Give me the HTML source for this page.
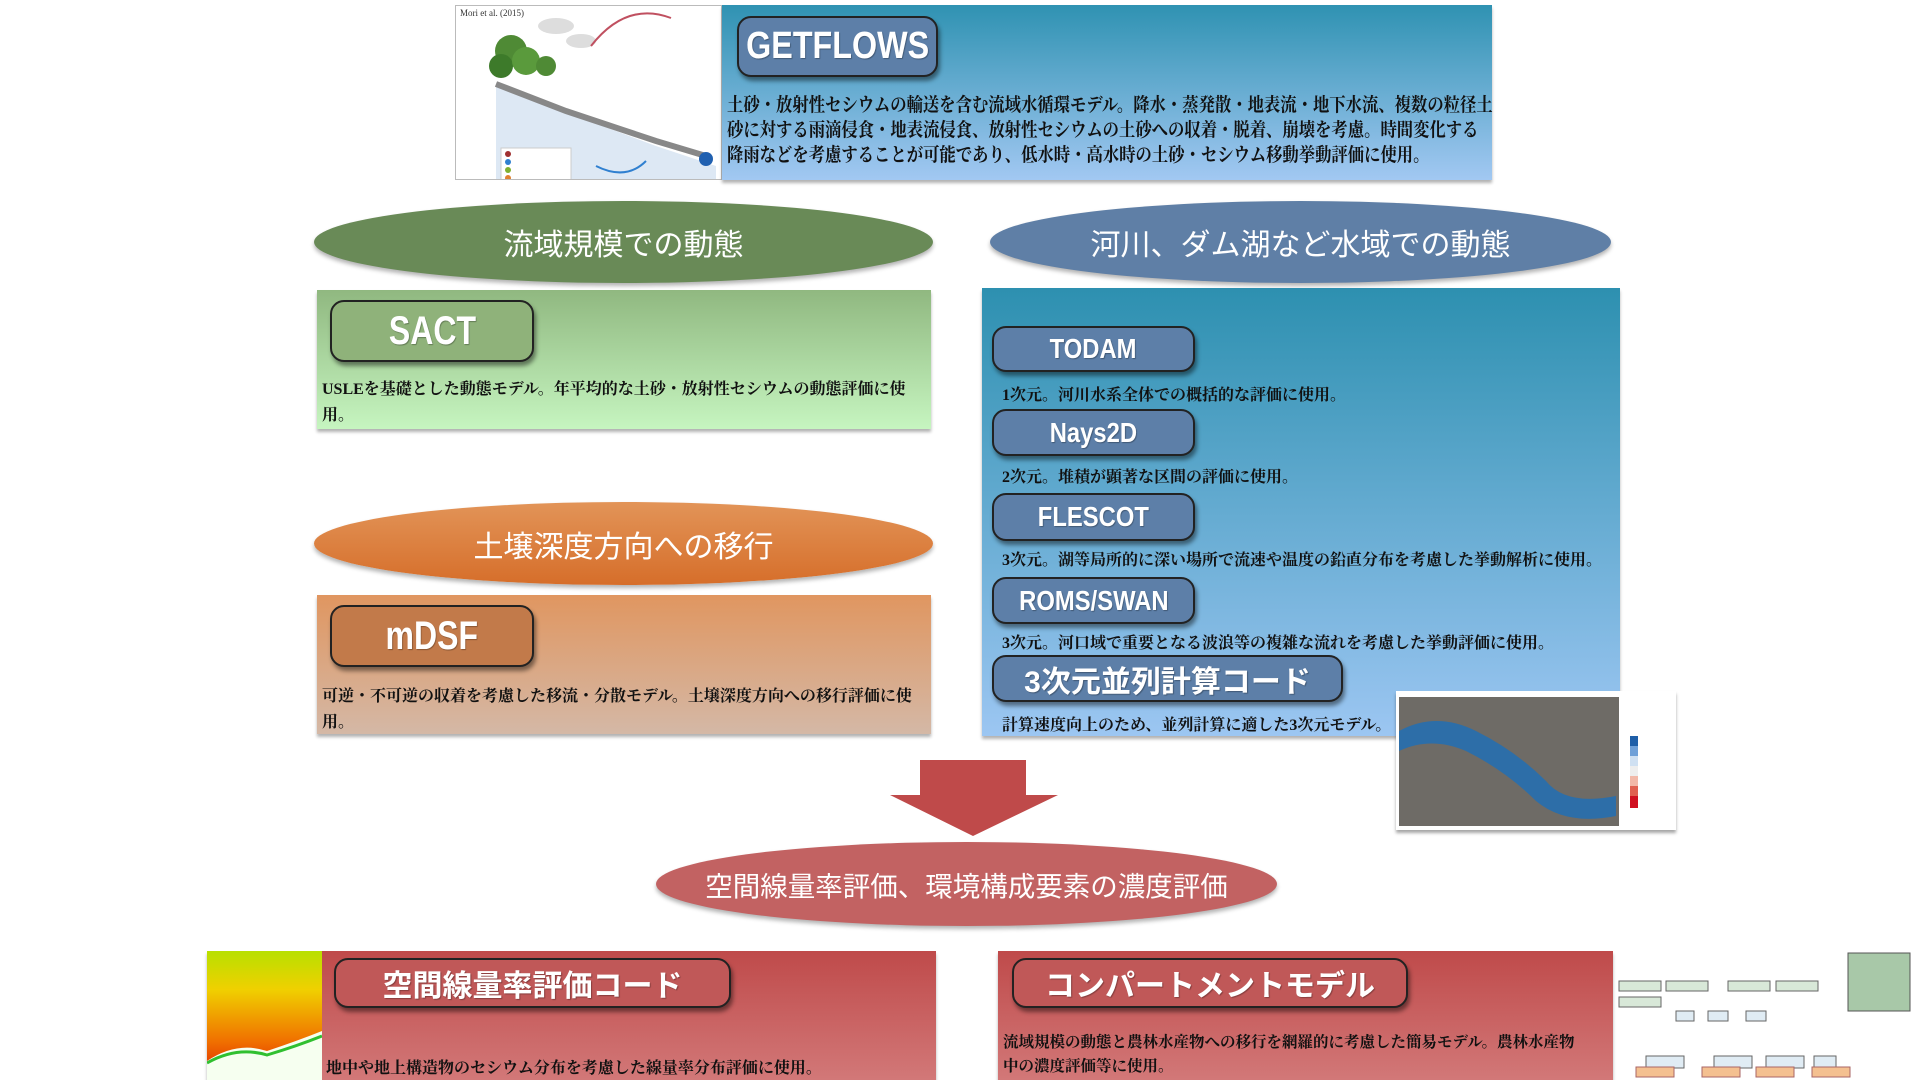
<!DOCTYPE html>
<html><head><meta charset="utf-8"><style>
*{margin:0;padding:0;box-sizing:border-box}
body{width:1920px;height:1080px;background:#fff;position:relative;overflow:hidden;font-family:"Liberation Serif","Noto Serif CJK SC",serif}
.a{position:absolute}
.btn{position:absolute;border:2px solid #222;border-radius:14px;box-shadow:2px 4px 4px rgba(0,0,0,.45);color:#fff;font-family:"Liberation Sans Narrow","Liberation Sans","Noto Sans CJK JP",sans-serif;font-weight:bold;display:flex;align-items:center;justify-content:center;text-shadow:1px 1px 1px rgba(0,0,0,.3)}
.bl{background:#5d7fa8}
.t{position:absolute;color:#111;font-weight:bold;white-space:nowrap;font-family:"Liberation Serif","Noto Serif CJK JP",serif}
.ell{position:absolute;border-radius:50%;color:#fff;display:flex;align-items:center;justify-content:center;font-family:"Liberation Sans","Noto Sans CJK JP",sans-serif;box-shadow:0 3px 4px rgba(0,0,0,.3)}
.panel{position:absolute;box-shadow:0 3px 3px rgba(0,0,0,.3)}
</style></head><body>

<!-- top image -->
<div class="a" style="left:455px;top:5px;width:267px;height:175px;background:#fff;border:1px solid #bbb;overflow:hidden">
<div class="a" style="left:4px;top:2px;font-size:9px;color:#333">Mori et al. (2015)</div>
<svg width="267" height="175" class="a" style="left:0;top:0">
<path d="M40 80 L200 140 L260 160 L260 175 L40 175Z" fill="#dde8f4"/>
<path d="M40 78 L110 105 L200 135 L250 150" stroke="#888" stroke-width="6" fill="none"/>
<circle cx="55" cy="45" r="16" fill="#4f8a35"/><circle cx="45" cy="60" r="12" fill="#3d7a2a"/><circle cx="70" cy="55" r="14" fill="#5a9a3c"/>
<circle cx="90" cy="60" r="10" fill="#4f8a35"/>
<ellipse cx="100" cy="20" rx="18" ry="8" fill="#ddd"/><ellipse cx="125" cy="35" rx="15" ry="7" fill="#ddd"/>
<path d="M135 40 Q170 -5 215 12" stroke="#c05060" fill="none" stroke-width="2"/>
<circle cx="250" cy="153" r="7" fill="#2060b0"/>
<rect x="45" y="142" width="70" height="32" fill="#fff" stroke="#ccc"/>
<circle cx="52" cy="148" r="3" fill="#a03030"/><circle cx="52" cy="156" r="3" fill="#3080d0"/><circle cx="52" cy="164" r="3" fill="#80b030"/><circle cx="52" cy="172" r="3" fill="#e08030"/>
<path d="M140 160 Q170 175 190 155" stroke="#3080d0" fill="none" stroke-width="2"/>
</svg></div>
<div class="panel" style="left:722px;top:5px;width:770px;height:175px;background:linear-gradient(#2f92b2,#a2c8f2)"></div>
<div class="btn bl" style="left:737px;top:16px;width:201px;height:61px;font-size:38px"><span style="display:inline-block;transform:scaleX(.85)">GETFLOWS</span></div>
<div class="t" style="left:727px;top:93px;font-size:19px;line-height:25px;transform:scaleX(.86);transform-origin:left top">土砂・放射性セシウムの輸送を含む流域水循環モデル。降水・蒸発散・地表流・地下水流、複数の粒径土<br>砂に対する雨滴侵食・地表流侵食、放射性セシウムの土砂への収着・脱着、崩壊を考慮。時間変化する<br>降雨などを考慮することが可能であり、低水時・高水時の土砂・セシウム移動挙動評価に使用。</div>

<!-- ellipses -->
<div class="ell" style="left:314px;top:201px;width:619px;height:82px;background:#698a57;font-size:30px">流域規模での動態</div>
<div class="ell" style="left:990px;top:201px;width:621px;height:82px;background:#5f7fa6;font-size:30px">河川、ダム湖など水域での動態</div>

<!-- SACT -->
<div class="panel" style="left:317px;top:290px;width:614px;height:139px;background:linear-gradient(#90b880,#c6f5c0)"></div>
<div class="btn" style="left:330px;top:300px;width:204px;height:62px;background:#8fb27a;font-size:40px"><span style="display:inline-block;transform:scaleX(.8)">SACT</span></div>
<div class="t" style="left:322px;top:377px;font-size:16px;line-height:26px">USLEを基礎とした動態モデル。年平均的な土砂・放射性セシウムの動態評価に使<br>用。</div>

<div class="ell" style="left:314px;top:502px;width:619px;height:83px;background:linear-gradient(#e29458,#d66e2a);font-size:30px">土壌深度方向への移行</div>

<!-- mDSF -->
<div class="panel" style="left:317px;top:595px;width:614px;height:139px;background:linear-gradient(#e09660,#d4b8a6)"></div>
<div class="btn" style="left:330px;top:605px;width:204px;height:62px;background:#c27a4a;font-size:40px"><span style="display:inline-block;transform:scaleX(.8)">mDSF</span></div>
<div class="t" style="left:322px;top:684px;font-size:16px;line-height:26px">可逆・不可逆の収着を考慮した移流・分散モデル。土壌深度方向への移行評価に使<br>用。</div>

<!-- right panel -->
<div class="panel" style="left:982px;top:288px;width:638px;height:448px;background:linear-gradient(#2d90b0,#9cc6f2)"></div>
<div class="btn bl" style="left:992px;top:326px;width:203px;height:46px;font-size:28px"><span style="display:inline-block;transform:scaleX(.85)">TODAM</span></div>
<div class="t" style="left:1002px;top:382px;font-size:16px">1次元。河川水系全体での概括的な評価に使用。</div>
<div class="btn bl" style="left:992px;top:409px;width:203px;height:47px;font-size:28px"><span style="display:inline-block;transform:scaleX(.85)">Nays2D</span></div>
<div class="t" style="left:1002px;top:464px;font-size:16px">2次元。堆積が顕著な区間の評価に使用。</div>
<div class="btn bl" style="left:992px;top:493px;width:203px;height:48px;font-size:28px"><span style="display:inline-block;transform:scaleX(.85)">FLESCOT</span></div>
<div class="t" style="left:1002px;top:547px;font-size:16px">3次元。湖等局所的に深い場所で流速や温度の鉛直分布を考慮した挙動解析に使用。</div>
<div class="btn bl" style="left:992px;top:577px;width:203px;height:47px;font-size:28px"><span style="display:inline-block;transform:scaleX(.85)">ROMS/SWAN</span></div>
<div class="t" style="left:1002px;top:630px;font-size:16px">3次元。河口域で重要となる波浪等の複雑な流れを考慮した挙動評価に使用。</div>
<div class="btn bl" style="left:992px;top:655px;width:351px;height:47px;font-size:30px">3次元並列計算コード</div>
<div class="t" style="left:1002px;top:712px;font-size:16px">計算速度向上のため、並列計算に適した3次元モデル。</div>

<!-- map -->
<div class="a" style="left:1396px;top:691px;width:280px;height:139px;background:#fff;box-shadow:0 3px 3px rgba(0,0,0,.35)">
<svg width="280" height="139" class="a" style="left:0;top:0">
<rect x="3" y="6" width="220" height="129" fill="#6e6b66"/>
<path d="M3 40 Q40 20 80 40 Q120 60 150 90 Q170 115 220 105 L220 125 Q170 135 140 110 Q110 80 70 60 Q35 45 3 60Z" fill="#2d6ea8"/>
<rect x="234" y="45" width="8" height="10" fill="#1f5fa8"/><rect x="234" y="55" width="8" height="10" fill="#6fa0d8"/><rect x="234" y="65" width="8" height="10" fill="#cfe0f2"/><rect x="234" y="75" width="8" height="10" fill="#eee"/><rect x="234" y="85" width="8" height="10" fill="#f2b8a8"/><rect x="234" y="95" width="8" height="10" fill="#e06050"/><rect x="234" y="105" width="8" height="12" fill="#d01020"/>
</svg></div>

<!-- arrow -->
<svg class="a" style="left:885px;top:758px" width="180" height="80"><polygon points="35,2 141,2 141,37 173,37 88,78 5,37 35,37" fill="#bf4a4a"/></svg>
<div class="ell" style="left:656px;top:842px;width:621px;height:84px;background:#c26262;font-size:27.5px">空間線量率評価、環境構成要素の濃度評価</div>

<!-- bottom left -->
<div class="panel" style="left:207px;top:951px;width:729px;height:129px;background:linear-gradient(#bf4a4a,#d27878)"></div>
<div class="a" style="left:207px;top:951px;width:115px;height:129px;background:linear-gradient(#b8e000,#f0d000 30%,#f07000 70%,#e02000);overflow:hidden">
<svg width="115" height="129"><path d="M0 110 Q30 90 60 100 Q90 90 115 80 L115 129 L0 129Z" fill="#f6fff0"/><path d="M0 112 Q30 95 60 104 Q90 95 115 85" stroke="#30c030" stroke-width="3" fill="none"/></svg></div>
<div class="btn" style="left:334px;top:958px;width:397px;height:50px;background:#c05858;font-size:30px">空間線量率評価コード</div>
<div class="t" style="left:326px;top:1055px;font-size:16px">地中や地上構造物のセシウム分布を考慮した線量率分布評価に使用。</div>

<!-- bottom right -->
<div class="panel" style="left:998px;top:951px;width:615px;height:129px;background:linear-gradient(#bf4a4a,#d27878)"></div>
<div class="btn" style="left:1012px;top:958px;width:396px;height:50px;background:#c05858;font-size:30px">コンパートメントモデル</div>
<div class="t" style="left:1003px;top:1031px;font-size:15.5px;line-height:24px">流域規模の動態と農林水産物への移行を網羅的に考慮した簡易モデル。農林水産物<br>中の濃度評価等に使用。</div>
<svg class="a" style="left:1616px;top:951px" width="300" height="129">
<rect x="232" y="2" width="62" height="58" fill="#a8c8a8" stroke="#555"/>
<g fill="#d8e8d8" stroke="#666"><rect x="3" y="30" width="42" height="10"/><rect x="50" y="30" width="42" height="10"/><rect x="112" y="30" width="42" height="10"/><rect x="160" y="30" width="42" height="10"/><rect x="3" y="46" width="42" height="10"/></g>
<g fill="#e0ecf4" stroke="#666"><rect x="60" y="60" width="18" height="10"/><rect x="92" y="60" width="20" height="10"/><rect x="130" y="60" width="20" height="10"/><rect x="30" y="105" width="38" height="12" /><rect x="98" y="105" width="38" height="12"/><rect x="150" y="105" width="38" height="12"/><rect x="198" y="105" width="22" height="12"/></g>
<g fill="#f4c090" stroke="#a66"><rect x="20" y="116" width="38" height="10"/><rect x="86" y="116" width="38" height="10"/><rect x="140" y="116" width="38" height="10"/><rect x="196" y="116" width="38" height="10"/></g>
</svg>
</body></html>
